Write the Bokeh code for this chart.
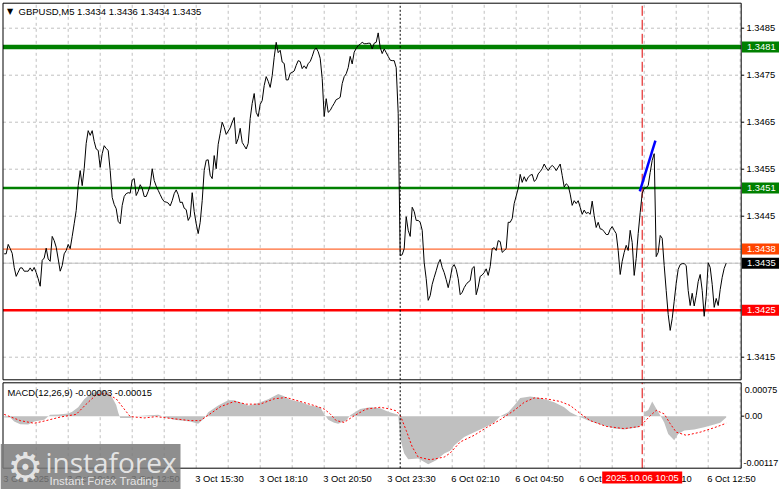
from bokeh.plotting import figure
from bokeh.layouts import column
from bokeh.models import GlobalInlineStyleSheet
from bokeh.core.properties import value
from bokeh.embed import file_html
from bokeh.resources import INLINE

# ---------------- data ----------------
title_text = "GBPUSD,M5  1.3434 1.3436 1.3434 1.3435"
macd_text = "MACD(12,26,9) -0.00003 -0.00015"

close = [
    1.34370, 1.34370, 1.34390, 1.34381, 1.34371, 1.34341, 1.34322, 1.34331, 1.34340, 1.34340,
    1.34333, 1.34333, 1.34333, 1.34340, 1.34333, 1.34341, 1.34330, 1.34317, 1.34301, 1.34356,
    1.34361, 1.34382, 1.34359, 1.34354, 1.34407, 1.34398, 1.34384, 1.34359, 1.34333, 1.34345,
    1.34370, 1.34377, 1.34390, 1.34381, 1.34407, 1.34434, 1.34462, 1.34515, 1.34547, 1.34515,
    1.34551, 1.34605, 1.34632, 1.34622, 1.34632, 1.34609, 1.34593, 1.34590, 1.34554, 1.34583,
    1.34600, 1.34594, 1.34590, 1.34547, 1.34490, 1.34475, 1.34466, 1.34439, 1.34434, 1.34473,
    1.34492, 1.34498, 1.34500, 1.34499, 1.34527, 1.34530, 1.34494, 1.34503, 1.34517, 1.34509,
    1.34492, 1.34492, 1.34503, 1.34515, 1.34551, 1.34526, 1.34514, 1.34505, 1.34496, 1.34487,
    1.34481, 1.34480, 1.34478, 1.34472, 1.34483, 1.34498, 1.34506, 1.34496, 1.34479, 1.34480,
    1.34467, 1.34464, 1.34441, 1.34449, 1.34500, 1.34460, 1.34434, 1.34413, 1.34437, 1.34483,
    1.34547, 1.34569, 1.34570, 1.34537, 1.34530, 1.34579, 1.34551, 1.34603, 1.34626, 1.34650,
    1.34639, 1.34624, 1.34631, 1.34638, 1.34650, 1.34660, 1.34604, 1.34615, 1.34637, 1.34607,
    1.34600, 1.34593, 1.34605, 1.34658, 1.34690, 1.34711, 1.34671, 1.34662, 1.34688, 1.34696,
    1.34728, 1.34747, 1.34737, 1.34724, 1.34749, 1.34788, 1.34820, 1.34798, 1.34803, 1.34778,
    1.34775, 1.34740, 1.34740, 1.34754, 1.34756, 1.34759, 1.34771, 1.34781, 1.34779, 1.34764,
    1.34770, 1.34764, 1.34775, 1.34779, 1.34790, 1.34803, 1.34808, 1.34800, 1.34786, 1.34743,
    1.34662, 1.34700, 1.34671, 1.34675, 1.34683, 1.34690, 1.34698, 1.34700, 1.34703, 1.34732,
    1.34747, 1.34753, 1.34766, 1.34790, 1.34774, 1.34799, 1.34807, 1.34813, 1.34816, 1.34820,
    1.34817, 1.34817, 1.34818, 1.34818, 1.34806, 1.34818, 1.34820, 1.34840, 1.34809, 1.34796,
    1.34806, 1.34798, 1.34790, 1.34782, 1.34781, 1.34781, 1.34766, 1.34669, 1.34366, 1.34368,
    1.34381, 1.34449, 1.34420, 1.34407, 1.34469, 1.34460, 1.34441, 1.34441, 1.34437, 1.34420,
    1.34351, 1.34317, 1.34271, 1.34281, 1.34305, 1.34320, 1.34334, 1.34349, 1.34358, 1.34341,
    1.34330, 1.34315, 1.34298, 1.34317, 1.34341, 1.34347, 1.34337, 1.34317, 1.34283, 1.34288,
    1.34298, 1.34305, 1.34310, 1.34313, 1.34339, 1.34343, 1.34283, 1.34299, 1.34322, 1.34325,
    1.34330, 1.34338, 1.34324, 1.34343, 1.34381, 1.34383, 1.34377, 1.34398, 1.34396, 1.34373,
    1.34377, 1.34381, 1.34437, 1.34437, 1.34445, 1.34477, 1.34493, 1.34509, 1.34539, 1.34522,
    1.34534, 1.34524, 1.34533, 1.34537, 1.34539, 1.34524, 1.34528, 1.34540, 1.34545, 1.34551,
    1.34561, 1.34553, 1.34547, 1.34554, 1.34558, 1.34554, 1.34547, 1.34554, 1.34561, 1.34537,
    1.34512, 1.34519, 1.34515, 1.34497, 1.34473, 1.34483, 1.34477, 1.34483, 1.34469, 1.34454,
    1.34463, 1.34456, 1.34458, 1.34454, 1.34482, 1.34451, 1.34426, 1.34437, 1.34423, 1.34422,
    1.34417, 1.34411, 1.34411, 1.34422, 1.34428, 1.34420, 1.34413, 1.34377, 1.34326, 1.34354,
    1.34373, 1.34388, 1.34377, 1.34420, 1.34394, 1.34324, 1.34360, 1.34413, 1.34458, 1.34498,
    1.34509, 1.34511, 1.34515, 1.34543, 1.34569, 1.34583, 1.34364, 1.34373, 1.34409, 1.34403,
    1.34345, 1.34292, 1.34241, 1.34207, 1.34232, 1.34269, 1.34307, 1.34337, 1.34347, 1.34349,
    1.34349, 1.34345, 1.34292, 1.34260, 1.34286, 1.34259, 1.34281, 1.34311, 1.34326, 1.34292,
    1.34237, 1.34279, 1.34351, 1.34341, 1.34305, 1.34256, 1.34275, 1.34260, 1.34294, 1.34320,
    1.34339, 1.34350,
]
bars = list(range(len(close)))

macd_bar = [0, 3, 5, 8, 12, 15, 20, 23, 27, 32, 34, 37, 40, 43, 47, 50, 52, 54, 56, 57, 58, 63, 65,
            73, 77, 80, 85, 93, 97, 100, 102, 107, 112, 115, 118, 122, 125, 128, 132, 137, 140, 143,
            148, 153, 158, 160, 162, 165, 167, 171, 173, 178, 183, 188, 192, 197, 198, 200, 202, 207,
            212, 216, 220, 223, 225, 230, 235, 240, 245, 248, 252, 255, 258, 263, 268, 275, 280, 283,
            287, 292, 298, 305, 310, 317, 319, 320, 322, 324, 326, 328, 330, 332, 335, 337, 340, 345,
            350, 355, 358, 361]
macd_val = [-0.00003, -0.00003, -0.00012, -0.00018, -0.00019, -0.00012, -0.00008, 0.00003, 0.00004,
            0.00006, 0.00010, 0.00020, 0.00038, 0.00050, 0.00057, 0.00059, 0.00055, 0.00042, 0.00025,
            0.00008, -0.00004, -0.00004, 0.00000, 0.00002, 0.00003, -0.00002, -0.00008, -0.00012,
            -0.00017, -0.00005, 0.00009, 0.00024, 0.00036, 0.00036, 0.00031, 0.00024, 0.00027, 0.00031,
            0.00038, 0.00050, 0.00045, 0.00037, 0.00032, 0.00024, 0.00020, 0.00005, -0.00008, -0.00015,
            -0.00017, -0.00010, 0.00002, 0.00016, 0.00020, 0.00018, 0.00010, 0.00003, -0.00050,
            -0.00084, -0.00097, -0.00095, -0.00108, -0.00099, -0.00084, -0.00078, -0.00066, -0.00047,
            -0.00036, -0.00026, -0.00014, 0.00000, 0.00009, 0.00024, 0.00041, 0.00044, 0.00041, 0.00031,
            0.00020, 0.00009, 0.00000, -0.00010, -0.00019, -0.00028, -0.00030, -0.00025, -0.00017,
            0.00009, 0.00014, 0.00033, 0.00017, 0.00002, -0.00014, -0.00040, -0.00054, -0.00040,
            -0.00032, -0.00030, -0.00025, -0.00019, -0.00015, -0.00003]

sig_bar = [0, 8, 15, 21, 28, 36, 41, 46, 51, 56, 60, 63, 70, 76, 85, 93, 98, 101, 108, 115, 121, 128,
           135, 141, 148, 155, 160, 163, 166, 170, 175, 181, 188, 193, 196, 198, 201, 204, 207, 213,
           220, 223, 228, 235, 241, 248, 255, 260, 265, 271, 278, 283, 288, 293, 301, 310, 318, 323,
           326, 330, 333, 336, 341, 348, 355, 361]
sig_val = [0.00004, -0.00010, -0.00016, -0.00010, -0.00002, 0.00004, 0.00027, 0.00048, 0.00051,
           0.00039, 0.00016, -0.00001, -0.00004, -0.00001, -0.00006, -0.00010, -0.00010, -0.00001,
           0.00021, 0.00033, 0.00027, 0.00027, 0.00039, 0.00042, 0.00033, 0.00024, 0.00016, 0.00005,
           -0.00010, -0.00014, 0.00001, 0.00016, 0.00020, 0.00016, 0.00012, 0.00002, -0.00032,
           -0.00069, -0.00092, -0.00098, -0.00092, -0.00083, -0.00058, -0.00043, -0.00026, -0.00008,
           0.00013, 0.00031, 0.00041, 0.00039, 0.00033, 0.00024, 0.00006, -0.00010, -0.00023,
           -0.00028, -0.00023, 0.00001, 0.00013, 0.00005, -0.00017, -0.00036, -0.00043, -0.00036,
           -0.00026, -0.00016]

price_ticks = [1.3415, 1.3445, 1.3455, 1.3465, 1.3475, 1.3485]
grid_levels = [1.3415, 1.3425, 1.3435, 1.3445, 1.3455, 1.3465, 1.3475, 1.3485]
level_prices = [1.3481, 1.3451, 1.3438, 1.3425]
level_colors = ["#008000", "#008000", "#FF4500", "#FF0000"]
level_widths = [4.5, 2.5, 1, 2.5]
bid_price = 1.3435
trend_bar = [317.8, 325.6]
trend_price = [1.34503, 1.34611]
separator_bar = 198
cursor_bar = 319
cursor_label = "2025.10.06 10:05"
time_bars = [0, 32, 64, 96, 128, 160, 192, 224, 256, 288, 320, 352]
time_labels = ["3 Oct 2025", "3 Oct 10:10", "3 Oct 12:50", "3 Oct 15:30", "3 Oct 18:10",
               "3 Oct 20:50", "3 Oct 23:30", "6 Oct 02:10", "6 Oct 04:50", "6 Oct 07:30",
               "6 Oct 10:10", "6 Oct 12:50"]
grid_bars = list(range(16, 369, 16))
macd_top, macd_bottom = 0.00075, -0.00117
macd_zero = 0.0

# ---------------- layout helpers (pixel placement of decorations) ----------------
FONT = "Liberation Sans"
FS = "9.4px"
GRID = "#C0C0C0"
W = 781
H_MAIN, H_MACD = 381, 108


def bx(px):            # canvas x pixel -> bar coordinate (2 px per bar)
    return (px - 3.7) / 2.0


PX_PER_PRICE = 47000.0


def py(pxy):           # canvas y pixel -> price (main pane)
    return 1.3485 - (pxy - 27.7) / PX_PER_PRICE


MACD_TOP_PX, MACD_BOT_PX = 382.3, 467.7
K = (macd_top - macd_bottom) / (MACD_BOT_PX - MACD_TOP_PX)


def my(pxy):           # canvas y pixel -> macd value
    return macd_top - (pxy - MACD_TOP_PX) * K


PANE_L, PANE_R = bx(2.5), bx(740.7)
P_TOP, P_BOT = py(2.7), py(379.3)
X_RANGE = (bx(0), bx(W))

# ---------------- main price pane ----------------
p = figure(width=W, height=H_MAIN, x_range=X_RANGE, y_range=(py(H_MAIN), py(0)),
           output_backend="svg", toolbar_location=None, x_axis_location=None,
           y_axis_location=None, min_border=0)
p.grid.grid_line_color = None
p.outline_line_color = None
p.background_fill_color = "white"
p.border_fill_color = "white"

ng = len(grid_levels)
p.segment(x0=[PANE_L] * ng, y0=grid_levels, x1=[PANE_R] * ng, y1=grid_levels,
          line_color=GRID, line_width=1, line_dash="3 3")
nv = len(grid_bars)
p.segment(x0=grid_bars, y0=[P_BOT] * nv, x1=grid_bars, y1=[P_TOP] * nv,
          line_color=GRID, line_width=1, line_dash="3 3")

p.segment(x0=[PANE_L], y0=[bid_price], x1=[PANE_R], y1=[bid_price],
          line_color="#C0C0C0", line_width=1)
nl = len(level_prices)
p.segment(x0=[PANE_L] * nl, y0=level_prices, x1=[PANE_R] * nl, y1=level_prices,
          line_color=level_colors, line_width=level_widths)

p.segment(x0=[separator_bar], y0=[P_BOT], x1=[separator_bar], y1=[P_TOP],
          line_color="black", line_width=1, line_dash="2 2")
p.segment(x0=[cursor_bar], y0=[P_BOT], x1=[cursor_bar], y1=[P_TOP],
          line_color="#E00000", line_width=1, line_dash="10 4")

p.line(bars, close, line_color="black", line_width=1)
p.line(trend_bar, trend_price, line_color="#0000FF", line_width=2.5)

p.quad(left=PANE_L, right=PANE_R, bottom=P_BOT, top=P_TOP, fill_color=None,
       line_color="black", line_width=1)

# price scale (right)
nt = len(price_ticks)
p.segment(x0=[PANE_R] * nt, y0=price_ticks, x1=[bx(743.7)] * nt, y1=price_ticks,
          line_color="black", line_width=1)
p.text(x=[bx(746)] * nt, y=price_ticks, text=[f"{t:.4f}" for t in price_ticks],
       text_font=value(FONT), text_font_size=value(FS), text_color="black",
       text_align="left", text_baseline="middle")

box_prices = level_prices + [bid_price]
box_colors = level_colors + ["#000000"]
nb = len(box_prices)
p.rect(x=[bx(760)] * nb, y=box_prices, width=37, height=11, width_units="screen",
       height_units="screen", fill_color=box_colors, line_color=None)
p.text(x=[bx(746.5)] * nb, y=box_prices, text=[f"{v:.4f}" for v in box_prices],
       text_font=value(FONT), text_font_size=value(FS), text_color="white",
       text_align="left", text_baseline="middle")

p.text(x=[bx(6.5)], y=[py(11)], text=["\u25bc"], text_font=value("DejaVu Sans"),
       text_font_size=value("8px"), text_color="black", text_align="left",
       text_baseline="middle")
p.text(x=[bx(18)], y=[py(11)], text=[title_text], text_font=value(FONT),
       text_font_size=value("9.5px"), text_color="black", text_align="left",
       text_baseline="middle")

# ---------------- MACD pane ----------------
m = figure(width=W, height=H_MACD, x_range=p.x_range, y_range=(my(H_MAIN + H_MACD), my(H_MAIN)),
           output_backend="svg", toolbar_location=None, x_axis_location=None,
           y_axis_location=None, min_border=0)
m.grid.grid_line_color = None
m.outline_line_color = None
m.background_fill_color = "white"
m.border_fill_color = "white"

m.segment(x0=grid_bars, y0=[macd_bottom] * nv, x1=grid_bars, y1=[macd_top] * nv,
          line_color=GRID, line_width=1, line_dash="3 3")

m.varea(x=macd_bar, y1=0, y2=macd_val, fill_color="#C0C0C0")
m.line(sig_bar, sig_val, line_color="#FF0000", line_width=1, line_dash="2 2")

m.segment(x0=[separator_bar], y0=[macd_bottom], x1=[separator_bar], y1=[macd_top],
          line_color="black", line_width=1, line_dash="2 2")
m.segment(x0=[cursor_bar], y0=[macd_bottom], x1=[cursor_bar], y1=[macd_top],
          line_color="#E00000", line_width=1, line_dash="10 4")

m.quad(left=PANE_L, right=PANE_R, bottom=macd_bottom, top=macd_top, fill_color=None,
       line_color="black", line_width=1)

# macd scale (right)
m.segment(x0=[PANE_R], y0=[macd_zero], x1=[bx(743.7)], y1=[macd_zero],
          line_color="black", line_width=1)
m.text(x=[bx(744.3)], y=[macd_top], text=[f"{macd_top:.5f}"], y_offset=7,
       text_font=value(FONT), text_font_size=value("9px"), text_color="black",
       text_align="left", text_baseline="middle")
m.text(x=[bx(744.3)], y=[macd_zero], text=["0.00"],
       text_font=value(FONT), text_font_size=value("9px"), text_color="black",
       text_align="left", text_baseline="middle")
m.text(x=[bx(743)], y=[macd_bottom], text=[f"{macd_bottom:.5f}"], y_offset=-5.7,
       text_font=value(FONT), text_font_size=value("9px"), text_color="black",
       text_align="left", text_baseline="middle")

m.text(x=[bx(7)], y=[my(391.7)], text=[macd_text], text_font=value(FONT),
       text_font_size=value(FS), text_color="black", text_align="left",
       text_baseline="middle")

# time scale (bottom)
ntl = len(time_bars)
m.text(x=time_bars, y=[my(478)] * ntl, text=time_labels, x_offset=-1,
       text_font=value(FONT), text_font_size=value(FS), text_color="black",
       text_align="left", text_baseline="middle")
m.rect(x=[cursor_bar], y=[my(477)], width=80, height=12, width_units="screen",
       height_units="screen", fill_color="#FF0000", line_color=None)
m.text(x=[cursor_bar], y=[my(477)], text=[cursor_label], text_font=value(FONT),
       text_font_size=value(FS), text_color="white", text_align="center",
       text_baseline="middle")

# watermark
m.quad(left=bx(0), right=bx(180), bottom=my(H_MAIN + H_MACD), top=my(443.5),
       fill_color="#7a7a7a", fill_alpha=0.85, line_color=None)
m.text(x=[bx(25)], y=[my(466)], text=["\u2699"], text_font=value("DejaVu Sans"),
       text_font_size=value("40px"), text_color="#f0f0f0", text_alpha=0.9,
       text_align="center", text_baseline="middle")
m.text(x=[bx(45)], y=[my(461)], text=["instaforex"], text_font=value("Open Sans"),
       text_font_size=value("28px"), text_color="#f0f0f0", text_alpha=0.9,
       text_align="left", text_baseline="middle")
m.text(x=[bx(49)], y=[my(480.5)], text=["Instant Forex Trading"],
       text_font=value("Liberation Sans"), text_font_size=value("11.5px"),
       text_color="#f0f0f0", text_alpha=0.9, text_align="left", text_baseline="middle")

layout = column(p, m, spacing=0)
layout.stylesheets = [GlobalInlineStyleSheet(css="body { margin: 0 !important; }")]

open("out.html", "w").write(file_html(layout, INLINE))
